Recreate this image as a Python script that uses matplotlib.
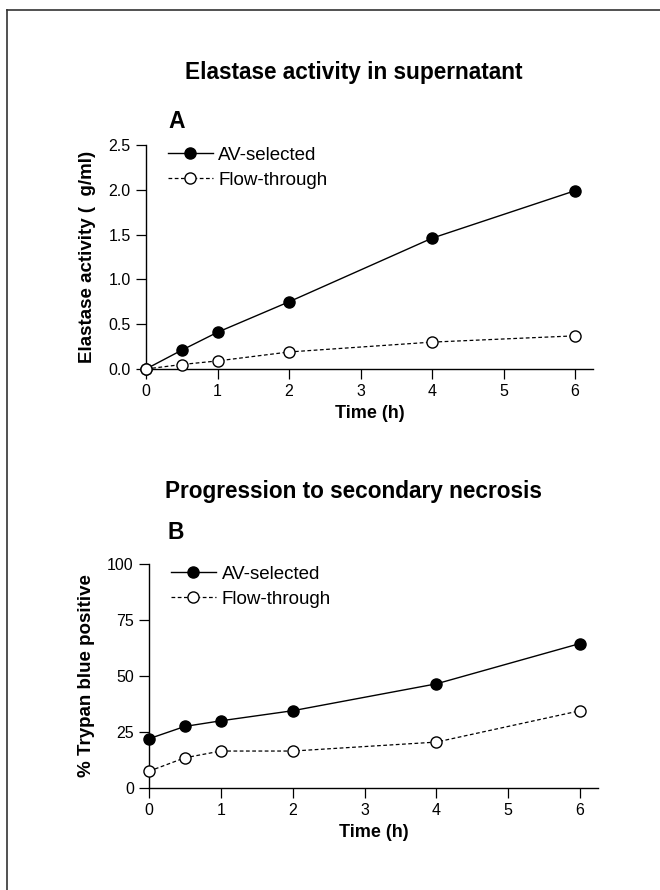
import matplotlib
matplotlib.use("Agg")
import matplotlib.pyplot as plt
from matplotlib.lines import Line2D

plt.rcParams['font.family'] = ['Liberation Sans', 'DejaVu Sans']

# time points (h)
time_h = [0, 0.5, 1, 2, 4, 6]

# A: elastase activity in supernatant
elastase_av = [0.0, 0.21, 0.41, 0.75, 1.46, 1.99]
elastase_flow = [0.0, 0.05, 0.09, 0.19, 0.30, 0.37]

# B: % trypan blue positive
trypan_av = [22, 27.5, 30, 34.5, 46.5, 64.5]
trypan_flow = [7.5, 13.5, 16.5, 16.5, 20.5, 34.5]

series_labels = ["AV-selected", "Flow-through"]
x_ticks = [0, 1, 2, 3, 4, 5, 6]
a_yticks = [0.0, 0.5, 1.0, 1.5, 2.0, 2.5]
b_yticks = [0, 25, 50, 75, 100]

fig = plt.figure(figsize=(6.6, 8.9), dpi=100)

# scanned frame edge (top & left)
fig.add_artist(Line2D([0.011, 1.0], [0.989, 0.989], color='#333333', lw=1.2))
fig.add_artist(Line2D([0.011, 0.011], [0.0, 0.989], color='#333333', lw=1.2))


def panel(rect, av, flow, yticks, ylim, ylabel, yfmt, letter, letter_y, title, title_y):
    ax = fig.add_axes(rect)
    ax.plot(time_h, av, '-', color='black', lw=1.0, marker='o', ms=8,
            mfc='black', mec='black', label=series_labels[0], clip_on=False, zorder=3)
    ax.plot(time_h, flow, '--', color='black', lw=0.9, dashes=(3, 2), marker='o', ms=8,
            mfc='white', mec='black', mew=1.0, label=series_labels[1], clip_on=False, zorder=3)
    ax.set_xlim(0, 6.25)
    ax.set_ylim(*ylim)
    ax.set_xticks(x_ticks)
    ax.set_yticks(yticks)
    ax.set_yticklabels([yfmt.format(v) for v in yticks])
    for s in ['top', 'right']:
        ax.spines[s].set_visible(False)
    for s in ['left', 'bottom']:
        ax.spines[s].set_linewidth(1.0)
    ax.tick_params(direction='out', length=7, width=0.9, labelsize=11.5, pad=4)
    ax.set_xlabel("Time (h)", fontsize=13, fontweight='bold', labelpad=4)
    ax.set_ylabel(ylabel, fontsize=13.5, fontweight='bold', labelpad=9)
    ax.legend(loc='upper left', bbox_to_anchor=(0.032, 1.025), frameon=False,
              fontsize=13.5, handlelength=2.4, handletextpad=0.3,
              labelspacing=0.4, borderaxespad=0)
    fig.text(0.536, title_y, title, ha='center', va='center', fontsize=16.3, fontweight='bold')
    fig.text(0.2545, letter_y, letter, ha='left', va='center',
             fontsize=16.5, fontweight='bold')
    return ax


panel([0.2212, 0.5854, 0.6773, 0.2517], elastase_av, elastase_flow, a_yticks, (0, 2.5),
      "Elastase activity (  g/ml)", "{:.1f}", "A", 0.864,
      "Elastase activity in supernatant", 0.918)
panel([0.2258, 0.1146, 0.6803, 0.2517], trypan_av, trypan_flow, b_yticks, (0, 100),
      "% Trypan blue positive", "{:d}", "B", 0.402,
      "Progression to secondary necrosis", 0.448)

fig.savefig("out.png", dpi=100)
